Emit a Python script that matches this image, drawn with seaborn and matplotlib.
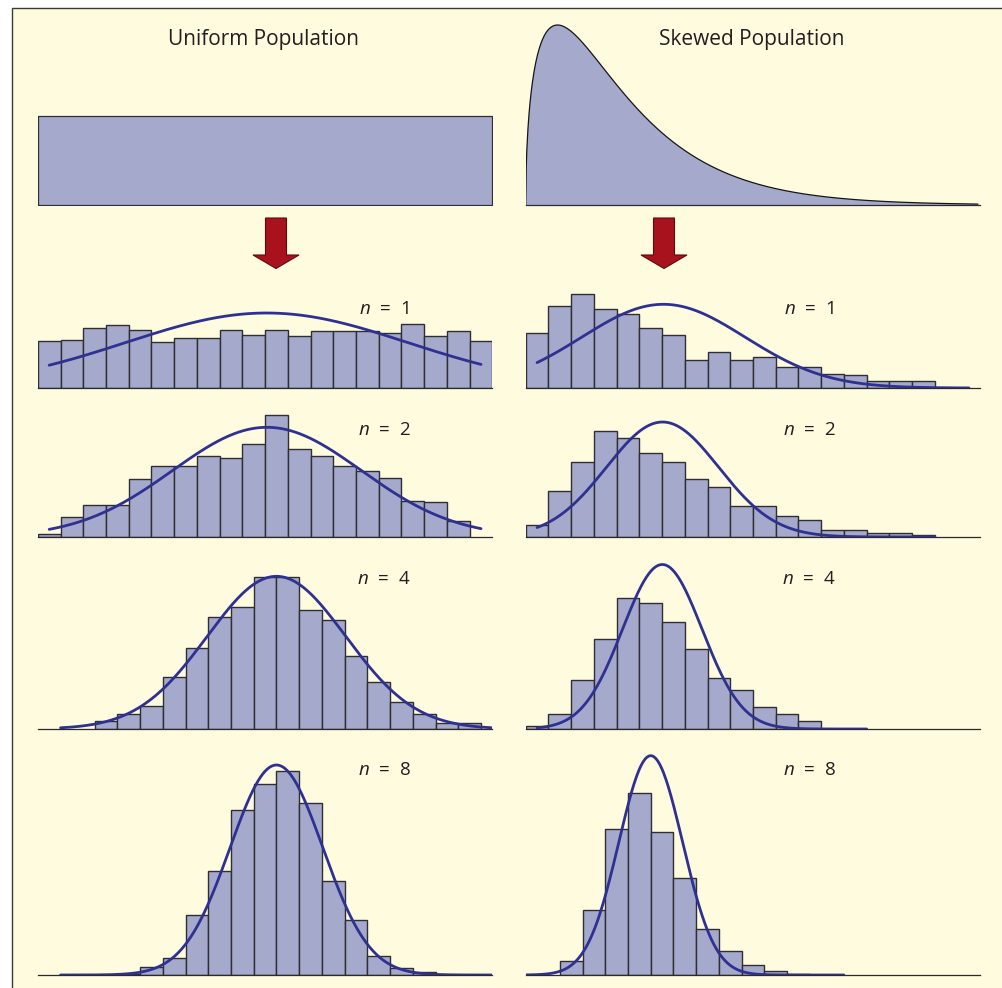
import numpy as np
import pandas as pd
import matplotlib
matplotlib.use("Agg")
import matplotlib.pyplot as plt
import seaborn as sns
from matplotlib.transforms import Affine2D
from matplotlib.patches import Rectangle, Polygon

# ---------------- data ----------------
column_titles = ["Uniform Population", "Skewed Population"]
sample_sizes = [1, 2, 4, 8]

# population shapes
uniform_height = 89.0
skew_shape, skew_scale, skew_peak = 1.5, 2.8, 180.0

# histogram bar heights (bin width = 1 unit), first bin left edge
uni_starts = [0.0, 0.0, 2.5, 3.5]
uni_n1 = [46.7, 48.3, 60, 63.3, 58, 46, 50, 50, 57.7, 52.7, 57.7, 52.3, 57.3, 57.3, 57, 55, 64.3, 52, 57, 47]
uni_n2 = [3.3, 20, 32.3, 32.3, 58, 71, 71, 80.7, 79, 93, 122, 88, 80.7, 71, 65.7, 58.7, 36.3, 35.3, 15.7]
uni_n4 = [8.3, 15.3, 23, 51.7, 80.7, 112.3, 122, 151.7, 151.7, 119.3, 109.3, 72.7, 47, 27.3, 15.3, 6, 6.3]
uni_n8 = [1, 7.7, 16.7, 60, 104, 164.7, 191.3, 204, 171.7, 94.3, 55.3, 19.3, 7.3, 3.3]

skew_starts = [0.0, 0.0, 0.0, 1.5]
skew_n1 = [55.3, 81.7, 94, 79, 74.3, 60, 53, 28.3, 35.7, 28.3, 31, 21, 21, 13.7, 13.3, 6.7, 6.7, 6.7]
skew_n2 = [11.7, 46, 75, 106.3, 99, 84.3, 75.3, 58, 50.3, 31.3, 31.3, 21, 16.7, 7.3, 7.3, 4.3, 4.3, 1.7]
skew_n4 = [3.5, 14.8, 48.8, 90, 131.5, 126.5, 107, 80, 51.5, 39.2, 22.2, 15, 7.7]
skew_n8 = [14.3, 65.5, 145.7, 182, 143.3, 97.3, 46.3, 24.3, 9.7, 4.5, 0.8]

# fitted normal curves: mean, sd, peak height, x-range
uni_mu = [10.07, 10.08, 10.5, 10.5]
uni_sd = [6.2, 4.15, 3.05, 2.04]
uni_pk = [75, 109.7, 152.7, 210]
uni_rng = [(0.5, 19.5), (0.5, 19.5), (1.0, 20.0), (1.0, 20.0)]

skew_mu = [6.06, 6.02, 6.01, 5.5]
skew_sd = [3.6, 2.47, 1.75, 1.4]
skew_pk = [83.7, 115, 164.5, 219.3]
skew_rng = [(0.5, 19.5), (0.5, 18.0), (0.5, 15.0), (0.0, 14.0)]

# ---------------- style ----------------
W, H = 1002, 988
BG = "#FFFBDF"
FILL = "#A5A9CB"
EDGE = "#2E2E33"
CURVE = "#2E3192"
ARROW = "#A8121C"
TXT = "#231F20"

sns.set_theme(style="white")
plt.rcParams["font.family"] = ["Open Sans", "DejaVu Sans"]
plt.rcParams["mathtext.fontset"] = "custom"
plt.rcParams["mathtext.it"] = "Open Sans:italic"
plt.rcParams["mathtext.rm"] = "Open Sans"

fig = plt.figure(figsize=(W / 100, H / 100), dpi=100, facecolor="white")
px = Affine2D().scale(1.0 / W, -1.0 / H).translate(0, 1) + fig.transFigure

# yellow panel with border (only top and left edges fall inside the image)
fig.patches.append(Rectangle((12, 8), 1100, 1100, transform=px, facecolor=BG,
                             edgecolor="#3A3A3A", linewidth=1.0, zorder=-10))

UNIT = 22.73
col_x0 = [37.8, 525.7]
row_base = [205, 388, 537, 729, 975]
row_top = [12, 285, 400, 550, 740]


def make_ax(col, row):
    x0 = col_x0[col]
    x1 = x0 + 20 * UNIT
    yb, yt = row_base[row], row_top[row]
    ax = fig.add_axes([x0 / W, 1 - yb / H, (x1 - x0) / W, (yb - yt) / H])
    ax.set_facecolor("none")
    ax.set_xlim(0, 20)
    ax.set_ylim(0, yb - yt)
    for s in ["top", "left", "right"]:
        ax.spines[s].set_visible(False)
    ax.spines["bottom"].set_color("#2A2A2A")
    ax.spines["bottom"].set_linewidth(0.9)
    return ax


def finish(ax, row):
    ax.set_xlim(0, 20)
    ax.set_ylim(0, row_base[row] - row_top[row])
    ax.set_xticks([])
    ax.set_yticks([])
    ax.set_xlabel("")
    ax.set_ylabel("")


# ---- top row: populations ----
ax = make_ax(0, 0)
ax.fill_between([0, 20], 0, uniform_height, facecolor=FILL, edgecolor=EDGE, linewidth=0.9)
ax.spines["bottom"].set_visible(False)
finish(ax, 0)

ax = make_ax(1, 0)
xs = np.linspace(0, 19.9, 800)
dens = xs ** (skew_shape - 1) * np.exp(-xs / skew_scale)
dens = dens / dens.max() * skew_peak
ax.fill_between(xs, 0, dens, facecolor=FILL, edgecolor="none")
sns.lineplot(x=xs, y=dens, ax=ax, color="#151515", linewidth=0.9)
finish(ax, 0)

# ---- histogram rows ----
uni_hist = [uni_n1, uni_n2, uni_n4, uni_n8]
skew_hist = [skew_n1, skew_n2, skew_n4, skew_n8]
columns = [
    (uni_hist, uni_starts, uni_mu, uni_sd, uni_pk, uni_rng),
    (skew_hist, skew_starts, skew_mu, skew_sd, skew_pk, skew_rng),
]
label_x = [384, 809]
label_y = [309, 430, 579, 770]

for c, (hists, starts, mus, sds, pks, rngs) in enumerate(columns):
    for r in range(4):
        ax = make_ax(c, r + 1)
        h = np.asarray(hists[r], dtype=float)
        lo_edge = starts[r]
        df = pd.DataFrame({"x": lo_edge + np.arange(len(h)) + 0.5, "w": h})
        sns.histplot(data=df, x="x", weights="w", binwidth=1.0,
                     binrange=(lo_edge, lo_edge + len(h)), ax=ax, stat="count",
                     color=FILL, edgecolor=EDGE, linewidth=1.0, alpha=1.0, zorder=2)
        for p in ax.patches:
            p.set_facecolor(FILL)
            p.set_alpha(1.0)
        lo, hi = rngs[r]
        cx = np.linspace(lo, hi, 400)
        cy = pks[r] * np.exp(-0.5 * ((cx - mus[r]) / sds[r]) ** 2)
        sns.lineplot(x=cx, y=cy, ax=ax, color=CURVE, linewidth=2.0, zorder=3)
        finish(ax, r + 1)
        fig.text(label_x[c], label_y[r], f"$n$  =  {sample_sizes[r]}", transform=px,
                 ha="center", va="center", fontsize=13.5, color=TXT)

# ---- titles ----
fig.text(264, 40, column_titles[0], transform=px, ha="center", va="center",
         fontsize=15, color=TXT)
fig.text(752, 40, column_titles[1], transform=px, ha="center", va="center",
         fontsize=15, color=TXT)

# ---- arrows ----
for cxp in [276, 664]:
    pts = [(cxp - 10.5, 218), (cxp + 10.5, 218), (cxp + 10.5, 255), (cxp + 23, 255),
           (cxp, 268.5), (cxp - 23, 255), (cxp - 10.5, 255)]
    fig.patches.append(Polygon(pts, closed=True, transform=px, facecolor=ARROW,
                               edgecolor="#5E0A10", linewidth=0.8, zorder=5))

fig.savefig("out.png", dpi=100, facecolor="white")
